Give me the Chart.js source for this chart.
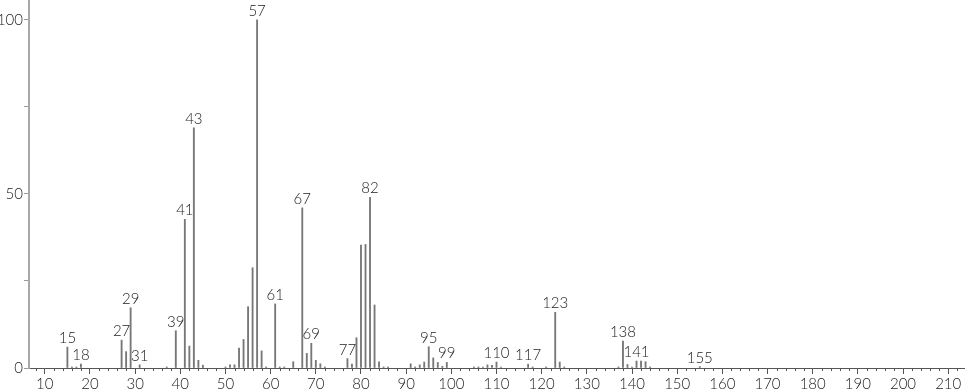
<!DOCTYPE html>
<html>
<head>
<meta charset="utf-8">
<script src="https://cdn.jsdelivr.net/npm/chart.js@4"></script>
<style>
    html, body { margin: 0; padding: 0; background: #fff; }
    #wrap { width: 966px; height: 389px; }
</style>
</head>
<body>
<div id="wrap"><canvas id="msChart"></canvas></div>
<script>
// peak m/z and relative intensity
var masses = [15, 16, 17, 18, 27, 28, 29, 31, 37, 39, 41, 42, 43, 44, 45, 50, 51, 52, 53, 54,
    55, 56, 57, 58, 59, 61, 62, 63, 65, 67, 68, 69, 70, 71, 72, 77, 78, 79, 80, 81,
    82, 83, 84, 85, 86, 91, 92, 93, 94, 95, 96, 97, 98, 99, 105, 106, 107, 108, 109, 110,
    111, 117, 118, 121, 123, 124, 125, 137, 138, 139, 140, 141, 142, 143, 144, 155];
var intensities = [6.0, 0.3, 0.3, 1.1, 8.0, 4.7, 17.3, 0.9, 0.3, 10.7, 42.7, 6.3, 69.0, 2.2, 0.8, 0.3, 0.9, 0.9, 5.7, 8.2,
    17.6, 28.8, 100, 4.9, 0.3, 18.4, 0.3, 0.3, 1.8, 46.0, 4.2, 7.1, 2.2, 1.2, 0.3, 2.7, 1.1, 8.7, 35.3, 35.5,
    49.0, 18.1, 1.8, 0.3, 0.3, 1.2, 0.3, 0.9, 1.7, 6.1, 2.9, 1.6, 0.5, 1.6, 0.3, 0.3, 0.3, 0.9, 0.8, 1.7,
    0.3, 1.1, 0.3, 0.3, 16.0, 1.7, 0.3, 0.3, 7.7, 1.0, 0.3, 2.0, 2.0, 1.8, 0.3, 0.4];
var labeledPeaks = [15, 18, 27, 29, 31, 39, 41, 43, 57, 61, 67, 69, 77, 82, 95, 99, 110, 117, 123, 138, 141, 155];

var xMajorTicks = [10, 20, 30, 40, 50, 60, 70, 80, 90, 100, 110, 120, 130, 140, 150, 160, 170, 180, 190, 200, 210];
var xMinorStep = 2;
var yTicks = [0, 25, 50, 75, 100];
var yLabels = [0, 50, 100];

var FONT = "Lato, 'Noto Sans', sans-serif";

var points = masses.map(function (m, i) { return { x: m, y: intensities[i] }; });

// peak labels + minor x ticks
var peakLabels = {
    id: 'peakLabels',
    afterDraw: function (chart) {
        var ctx = chart.ctx;
        var xs = chart.scales.x, ys = chart.scales.y;
        ctx.save();
        // minor ticks
        ctx.strokeStyle = '#555';
        ctx.lineWidth = 1;
        ctx.beginPath();
        for (var v = Math.ceil(xs.min / xMinorStep) * xMinorStep; v <= xs.max; v += xMinorStep) {
            if (xMajorTicks.indexOf(v) >= 0) continue;
            var px = Math.round(xs.getPixelForValue(v)) + 0.5;
            ctx.moveTo(px, ys.bottom);
            ctx.lineTo(px, ys.bottom + 3);
        }
        ctx.stroke();
        // labels
        ctx.fillStyle = '#222';
        ctx.font = '300 15px ' + FONT;
        ctx.textAlign = 'center';
        ctx.textBaseline = 'alphabetic';
        labeledPeaks.forEach(function (m) {
            var i = masses.indexOf(m);
            var px = xs.getPixelForValue(m);
            var py = ys.getPixelForValue(intensities[i]);
            ctx.fillText(String(m), px, py - 4);
        });
        ctx.restore();
    }
};

new Chart("msChart", {
    type: "bar",
    data: {
        datasets: [{
            data: points,
            backgroundColor: "#777",
            borderWidth: 0,
            barThickness: 1.2
        }]
    },
    plugins: [peakLabels],
    options: {
        responsive: true,
        maintainAspectRatio: false,
        animation: false,
        layout: { padding: { top: 0, right: 2, left: 0, bottom: 0 } },
        plugins: {
            legend: { display: false },
            tooltip: { enabled: false }
        },
        scales: {
            x: {
                type: "linear",
                offset: false,
                min: 6.5,
                max: 213.5,
                afterBuildTicks: function (scale) {
                    scale.ticks = xMajorTicks.map(function (v) { return { value: v }; });
                },
                afterFit: function (scale) {
                    scale.height = 21;
                    scale.paddingLeft = 0;
                    scale.paddingRight = 0;
                },
                grid: {
                    offset: false,
                    drawOnChartArea: false,
                    drawTicks: true,
                    tickLength: 6,
                    tickColor: "#555"
                },
                border: { display: true, color: "#555", width: 1 },
                ticks: {
                    autoSkip: false,
                    maxRotation: 0,
                    padding: 1,
                    color: "#222",
                    font: { family: FONT, size: 15, weight: 300 }
                }
            },
            y: {
                min: 0,
                max: 105.7,
                afterBuildTicks: function (scale) {
                    scale.ticks = yTicks.map(function (v) { return { value: v }; });
                },
                afterFit: function (scale) {
                    scale.width = 29;
                    scale.paddingTop = 0;
                    scale.paddingBottom = 0;
                },
                grid: {
                    drawOnChartArea: false,
                    drawTicks: true,
                    tickLength: 5,
                    tickColor: "#999"
                },
                border: { display: true, color: "#a8a8a8", width: 2 },
                ticks: {
                    autoSkip: false,
                    padding: 1,
                    color: "#222",
                    font: { family: FONT, size: 15, weight: 300 },
                    callback: function (v) { return yLabels.indexOf(v) >= 0 ? String(v) : ""; }
                }
            }
        }
    }
});
</script>
</body>
</html>
